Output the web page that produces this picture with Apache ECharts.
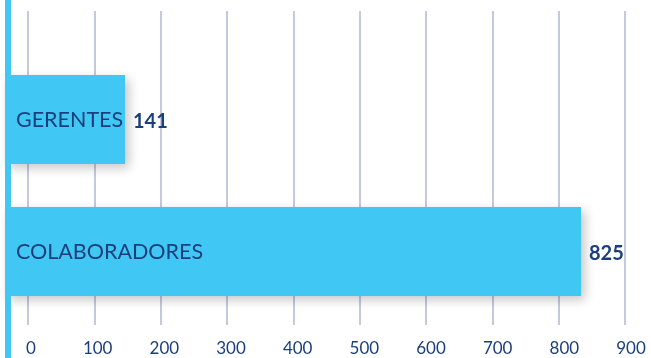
<!DOCTYPE html>
<html><head><meta charset="utf-8">
<style>html,body{margin:0;padding:0;background:#fff}#c{width:651px;height:358px}</style>
<script src="https://cdn.jsdelivr.net/npm/echarts@6/dist/echarts.min.js"></script>
</head><body><div id="c"></div>
<script>
const categories = ['GERENTES', 'COLABORADORES'];
const values = [141, 825];
const axisMin = 0, axisMax = 900, axisStep = 100;

const BLUE = '#41c7f4', NAVY = '#1b3f7d', GRID = '#c6c8df';
const chart = echarts.init(document.getElementById('c'), null, {renderer: 'canvas'});
const data = values.map((v, i) => [v, categories[i]]);
chart.setOption({
  animation: false,
  grid: [
    {left: 31, right: 20, top: 53.5, bottom: 40.5},
    {left: 28, right: 26, top: 11, bottom: 33}
  ],
  xAxis: [
    {gridIndex: 0, type: 'value', min: axisMin, max: axisMax, interval: axisStep,
     axisLine: {show: false}, axisTick: {show: false}, splitLine: {show: false},
     axisLabel: {color: NAVY, fontFamily: 'Lato', fontSize: 17, margin: 23}},
    {gridIndex: 1, type: 'value', min: axisMin, max: axisMax, interval: axisStep,
     axisLine: {show: false}, axisTick: {show: false}, axisLabel: {show: false},
     splitLine: {show: true, lineStyle: {color: GRID, width: 2}}}
  ],
  yAxis: [
    {gridIndex: 0, type: 'category', data: categories, inverse: true, show: false},
    {gridIndex: 1, type: 'value', show: false}
  ],
  graphic: [{type: 'rect', left: 5, top: 0, shape: {width: 6, height: 358}, style: {fill: BLUE}, z: 10}],
  series: [{
    type: 'custom', xAxisIndex: 0, yAxisIndex: 0, data: data, encode: {x: 0, y: 1},
    renderItem: function (params, api) {
      const end = api.coord([api.value(0), api.value(1)]);
      const band = api.size([0, 1])[1];
      const h = band * 0.674;
      const x0 = params.coordSys.x - 26;
      return {type: 'group', children: [
        {type: 'rect', shape: {x: x0, y: end[1] - h / 2, width: end[0] - x0, height: h},
         style: {fill: BLUE, shadowBlur: 10, shadowOffsetX: 4, shadowOffsetY: 4, shadowColor: 'rgba(0,0,0,0.22)'}},
        {type: 'text', style: {text: categories[params.dataIndex], x: x0 + 11, y: end[1] + 1,
         verticalAlign: 'middle', font: '21.5px Lato', fill: NAVY}},
        {type: 'text', style: {text: String(api.value(0)), x: end[0] + 8, y: end[1] + 2,
         verticalAlign: 'middle', font: 'bold 20px Lato', fill: NAVY}}
      ]};
    }
  }]
});
</script></body></html>
